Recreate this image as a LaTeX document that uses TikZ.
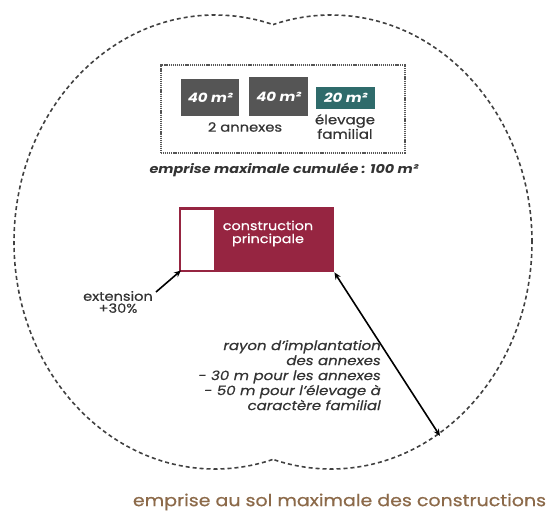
\documentclass[tikz,border=0pt]{standalone}
\usepackage{fontspec}
\setmainfont{Poppins}[FakeStretch=1.15, UprightFeatures={FakeBold=0.6}, ItalicFeatures={FakeBold=0.6}]
\usetikzlibrary{arrows.meta}
\definecolor{outline}{HTML}{404040}
\definecolor{boxgray}{HTML}{555555}
\definecolor{teal}{HTML}{2F6B6B}
\definecolor{crimson}{HTML}{962541}
\definecolor{txt}{HTML}{333333}
\definecolor{caption}{HTML}{8C6A4A}
\tikzset{
  outl/.style={draw=outline, line width=1.6pt, dash pattern=on 4pt off 3pt},
  dotbox/.style={draw=boxgray, line width=1.5pt, dash pattern=on 1.2pt off 0.9pt},
  areabox/.style={fill=#1, draw=none, text=white, font=\fontsize{13}{14}\selectfont\bfseries\itshape, inner sep=0pt, anchor=north west},
  lbl/.style={text=txt, align=center, inner sep=0pt},
  arr/.style={line width=1.6pt, black},
}
\begin{document}
\begin{tikzpicture}[x=1pt,y=-1pt]
\useasboundingbox (0,0) rectangle (552,515);
% outer union of two ellipses
\begin{scope}
  \clip (0,0) rectangle (273,515);
  \draw[outl] (215,242) ellipse [x radius=201pt, y radius=227pt];
\end{scope}
\begin{scope}
  \clip (273,0) rectangle (552,515);
  \draw[outl] (331,242) ellipse [x radius=201pt, y radius=227pt];
\end{scope}
% dotted frame
\node[dotbox, minimum width=244pt, minimum height=88pt, anchor=north west, inner sep=0pt] (frame) at (160,64) {};
\node[areabox=boxgray, minimum width=58pt, minimum height=37pt] (a1) at (181,79) {40 m²};
\node[areabox=boxgray, minimum width=59pt, minimum height=39pt] (a2) at (249,77) {40 m²};
\node[areabox=teal, minimum width=59pt, minimum height=22pt] (e1) at (316,87) {20 m²};
\node[lbl, font=\fontsize{12.8}{12}\selectfont] (annex) at (245,127) {2 annexes};
\node[lbl, font=\fontsize{13}{11.5}\selectfont] (elev) at (345,126.5) {élevage\\familial};
\node[lbl, font=\fontsize{12.5}{13}\selectfont\bfseries\itshape] (cumul) at (284,170) {emprise maximale cumulée : 100 m²};
% construction principale
\node[fill=crimson, minimum width=155pt, minimum height=65pt, anchor=north west, inner sep=0pt] (cp) at (179,207) {};
\node[fill=white, minimum width=33pt, minimum height=60pt, anchor=north west, inner sep=0pt] (ext) at (181,210) {};
\node[text=white, align=center, inner sep=0pt, font=\fontsize{12.5}{13}\selectfont] (cptext) at (268,233.5) {construction\\principale};
% extension label
\node[lbl, font=\fontsize{12.7}{12}\selectfont] (extlbl) at (118,302) {extension\\+30\%};
\coordinate (extstart) at (156,292);
\draw[arr, -{Stealth[length=7pt,width=6pt]}] (extstart) -- (ext.south west);
% radius arrow
\coordinate (rend) at (440,436);
\draw[arr, {Stealth[length=7pt,width=6pt]}-{Stealth[length=7pt,width=6pt]}] (cp.south east) -- (rend);
\node[text=txt, align=right, anchor=north east, inner sep=0pt, font=\fontsize{13}{15}\selectfont\itshape] (rayon) at (381,340) {rayon d'implantation\\des annexes\\- 30 m pour les annexes\\- 50 m pour l'élevage à\\caractère familial};
% caption
\node[text=caption, inner sep=0pt, font=\fontsize{16.5}{18}\selectfont] (cap) at (339.5,502) {emprise au sol maximale des constructions};
\end{tikzpicture}
\end{document}
